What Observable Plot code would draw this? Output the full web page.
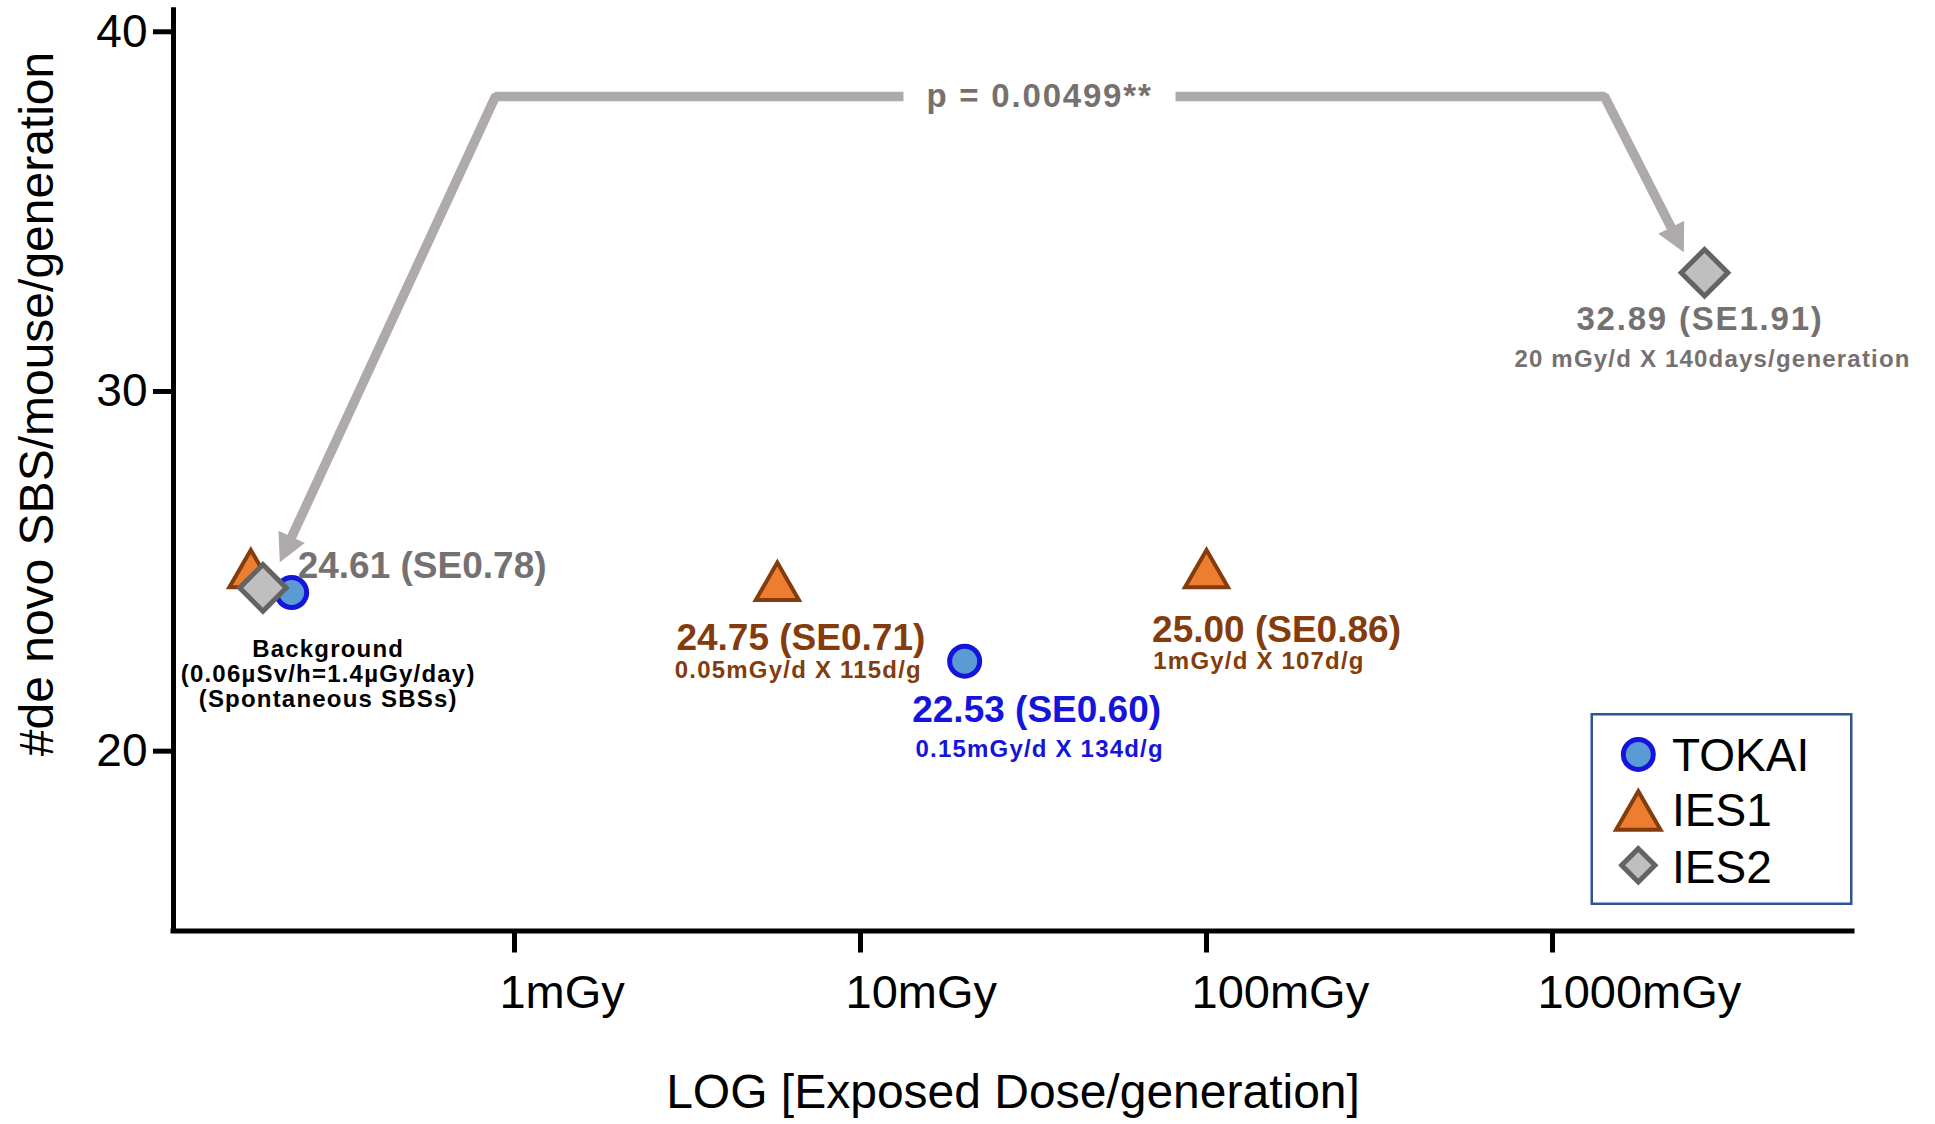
<!DOCTYPE html>
<html>
<head>
<meta charset="utf-8">
<script src="https://cdn.jsdelivr.net/npm/d3@7"></script>
<script src="https://cdn.jsdelivr.net/npm/@observablehq/plot@0.6"></script>
<style>
  html, body { margin: 0; padding: 0; background: #fff; }
  #wrap { position: relative; width: 1935px; height: 1124px; font-family: "Liberation Sans", Arial, Helvetica, sans-serif; }
  #legend { position: absolute; left: 0; top: 0; pointer-events: none; }
</style>
</head>
<body>
<div id="wrap"></div>
<script>
// ---------------- data ----------------
const seriesNames = ["TOKAI", "IES1", "IES2"];
const tokaiDose = [0.227, 20];          // mGy per generation
const tokaiSBS  = [24.41, 22.50];
const ies1Dose  = [0.173, 5.75, 100];
const ies1SBS   = [24.90, 24.55, 24.90];
const ies2Dose  = [0.1875, 2750];
const ies2SBS   = [24.54, 33.30];

const xTicks = [1, 10, 100, 1000];
const xTickLabels = ["1mGy", "10mGy", "100mGy", "1000mGy"];
const yTicks = [20, 30, 40];
const xDomain = [0.1034, 7362];
const yDomain = [15, 40.6];

const valueLabels = ["24.61 (SE0.78)", "24.75 (SE0.71)", "22.53 (SE0.60)", "25.00 (SE0.86)", "32.89 (SE1.91)"];
const doseLabels  = ["0.05mGy/d X 115d/g", "0.15mGy/d X 134d/g", "1mGy/d X 107d/g", "20 mGy/d X 140days/generation"];
const bgLines = ["Background", "(0.06µSv/h=1.4µGy/day)", "(Spontaneous SBSs)"];
const pText = "p = 0.00499**";
const xTitle = "LOG [Exposed Dose/generation]";
const yTitle = "#de novo SBS/mouse/generation";

// comparison arrow (annotation path, in data units)
const arrowLeftDose  = [0.2264, 0.881, 13.31];
const arrowLeftSBS   = [25.93, 38.2, 38.2];
const arrowRightDose = [81.36, 1413, 2205];
const arrowRightSBS  = [38.2, 38.2, 34.55];
const arrowTipDose   = [0.2098, 2396];
const arrowTipSBS    = [25.25, 33.87];
const pDose = 32.9, pSBS = 38.2;

// ---------------- helpers ----------------
const rows = (xs, ys) => xs.map((x, i) => ({x, y: ys[i]}));
const C = {
  blue: "#1414DC", blueFill: "#5B9BD5",
  brown: "#843C0C", orange: "#ED7D31",
  gray: "#767171", grayFill: "#BFBFBF", grayStroke: "#636363",
  arrow: "#AEAAAA", legend: "#2F5597"
};
function headSymbol(ux, uy, len = 28, half = 14.5) {
  return {
    draw(ctx) {
      const bx = -ux * len, by = -uy * len, px = -uy, py = ux;
      ctx.moveTo(0, 0);
      ctx.lineTo(bx + px * half, by + py * half);
      ctx.lineTo(bx - px * half, by - py * half);
      ctx.closePath();
    }
  };
}
const tokai = rows(tokaiDose, tokaiSBS);
const ies1 = rows(ies1Dose, ies1SBS);
const ies2 = rows(ies2Dose, ies2SBS);
const tips = rows(arrowTipDose, arrowTipSBS);

const labelSpecs = [
  {at: tokai[0], text: valueLabels[0], fill: C.gray,  size: 37, anchor: "start",  dx: 6,    dy: -15,  line: "bottom"},
  {at: tokai[0], text: bgLines.join("\n"), fill: "#000", size: 24, anchor: "middle", dx: 36.5, dy: 46.2, line: "top", lh: 1.05, ls: 1.2},
  {at: ies1[1],  text: valueLabels[1], fill: C.brown, size: 37, anchor: "middle", dx: 23.5, dy: 63,   line: "bottom"},
  {at: ies1[1],  text: doseLabels[0],  fill: C.brown, size: 24, anchor: "middle", dx: 21,   dy: 90.7, line: "bottom", ls: 1.2},
  {at: tokai[1], text: valueLabels[2], fill: C.blue,  size: 37, anchor: "middle", dx: 72,   dy: 61,   line: "bottom"},
  {at: tokai[1], text: doseLabels[1],  fill: C.blue,  size: 24, anchor: "middle", dx: 75,   dy: 96,   line: "bottom", ls: 1.2},
  {at: ies1[2],  text: valueLabels[3], fill: C.brown, size: 37, anchor: "middle", dx: 70,   dy: 66.6, line: "bottom"},
  {at: ies1[2],  text: doseLabels[2],  fill: C.brown, size: 24, anchor: "middle", dx: 52.5, dy: 93.6, line: "bottom", ls: 1.2},
  {at: ies2[1],  text: valueLabels[4], fill: C.gray,  size: 33, anchor: "middle", dx: -4.5, dy: 57.7, line: "bottom", ls: 1.8},
  {at: ies2[1],  text: doseLabels[3],  fill: C.gray,  size: 24, anchor: "middle", dx: 8,    dy: 94.4, line: "bottom", ls: 1.2}
];

const W = 1935, H = 1124;
const plot = Plot.plot({
  width: W, height: H,
  marginLeft: 173, marginRight: 83, marginTop: 9.7, marginBottom: 193.5,
  style: {fontFamily: '"Liberation Sans", Arial, Helvetica, sans-serif', color: "#000", background: "#fff", overflow: "visible"},
  x: {type: "log", domain: xDomain, label: null},
  y: {domain: yDomain, label: null},
  marks: [
    // axes
    Plot.ruleY([yDomain[0]], {strokeWidth: 5, strokeLinecap: "square"}),
    Plot.ruleX([xDomain[0]], {strokeWidth: 5, strokeLinecap: "square"}),
    Plot.axisY({ticks: yTicks, tickSize: 20, tickPadding: 6, strokeWidth: 5, fontSize: 46, label: null, fill: "#000"}),
    Plot.axisX({ticks: xTicks, tickSize: 22, strokeWidth: 5, tickFormat: () => "", label: null}),
    Plot.axisX({ticks: xTicks, tickSize: 0, tickPadding: 44, fontSize: 47, textAnchor: "start", dx: -15,
      tickFormat: (d) => xTickLabels[xTicks.indexOf(d)], label: null, fill: "#000"}),
    Plot.text([xTitle], {frameAnchor: "bottom", text: (d) => d, fontSize: 48, textAnchor: "middle", lineAnchor: "bottom", dy: 176.5, fill: "#000"}),
    Plot.text([yTitle], {frameAnchor: "left", text: (d) => d, fontSize: 48, rotate: -90, textAnchor: "middle", lineAnchor: "bottom", dx: -121, dy: -66.6, fill: "#000"}),
    // comparison arrow
    Plot.line(rows(arrowLeftDose, arrowLeftSBS), {x: "x", y: "y", stroke: C.arrow, strokeWidth: 9.5, strokeLinejoin: "miter", strokeLinecap: "butt"}),
    Plot.line(rows(arrowRightDose, arrowRightSBS), {x: "x", y: "y", stroke: C.arrow, strokeWidth: 9.5, strokeLinejoin: "miter", strokeLinecap: "butt"}),
    Plot.dot([tips[0]], {x: "x", y: "y", r: 10, symbol: headSymbol(-0.422, 0.907), fill: C.arrow, stroke: "none"}),
    Plot.dot([tips[1]], {x: "x", y: "y", r: 10, symbol: headSymbol(0.4496, 0.8934), fill: C.arrow, stroke: "none"}),
    Plot.text([{x: pDose, y: pSBS}], {x: "x", y: "y", text: () => pText, fontSize: 33, fontWeight: "bold", fill: C.gray}),
    // data points
    Plot.dot(tokai, {x: "x", y: "y", r: 15, fill: C.blueFill, stroke: C.blue, strokeWidth: 5}),
    Plot.dot(ies1, {x: "x", y: "y", r: 16, symbol: "triangle", fill: C.orange, stroke: C.brown, strokeWidth: 4, strokeLinejoin: "miter"}),
    Plot.dot(ies2, {x: "x", y: "y", r: 21, symbol: "diamond2", fill: C.grayFill, stroke: C.grayStroke, strokeWidth: 5, strokeLinejoin: "miter"}),
    // value labels
    ...labelSpecs.map((s) => Plot.text([s.at], {
      x: "x", y: "y", text: () => s.text, fill: s.fill, fontSize: s.size, fontWeight: "bold",
      textAnchor: s.anchor, lineAnchor: s.line, lineHeight: s.lh || 1, dx: s.dx, dy: s.dy
    }))
  ]
});
const wrap = document.getElementById("wrap");
wrap.appendChild(plot);

// letter spacing for the wide, small annotation texts (style only)
const spacing = new Map(labelSpecs.filter((s) => s.ls).map((s) => [s.text.replace(/\n/g, ""), s.ls]));
spacing.set(pText, 1.8);
d3.select(plot).selectAll("text").each(function () {
  const s = spacing.get(this.textContent);
  if (s) this.setAttribute("letter-spacing", s);
});

// ---------------- legend (inside plot area, lower right) ----------------
const leg = d3.select(wrap).append("svg").attr("id", "legend").attr("width", W).attr("height", H);
leg.append("rect").attr("x", 1591.75).attr("y", 714.25).attr("width", 259.5).attr("height", 189.5)
  .attr("fill", "#fff").attr("stroke", C.legend).attr("stroke-width", 2.5);
const legItems = [
  {name: seriesNames[0], sym: d3.symbolCircle, r: 15, fill: C.blueFill, stroke: C.blue, sw: 5, cx: 1638.3, cy: 754.5, ty: 770.7},
  {name: seriesNames[1], sym: d3.symbolTriangle, r: 16.5, fill: C.orange, stroke: C.brown, sw: 4, cx: 1638.3, cy: 816.9, ty: 825.7},
  {name: seriesNames[2], sym: d3.symbolDiamond2, r: 15, fill: C.grayFill, stroke: C.grayStroke, sw: 5, cx: 1638.3, cy: 865.3, ty: 883.3}
];
for (const it of legItems) {
  leg.append("path").attr("d", d3.symbol(it.sym, Math.PI * it.r * it.r)())
    .attr("transform", `translate(${it.cx},${it.cy})`)
    .attr("fill", it.fill).attr("stroke", it.stroke).attr("stroke-width", it.sw).attr("stroke-linejoin", "miter");
  leg.append("text").attr("x", 1672).attr("y", it.ty).text(it.name)
    .attr("font-size", 46).attr("fill", "#000")
    .attr("font-family", '"Liberation Sans", Arial, Helvetica, sans-serif');
}
</script>
</body>
</html>
